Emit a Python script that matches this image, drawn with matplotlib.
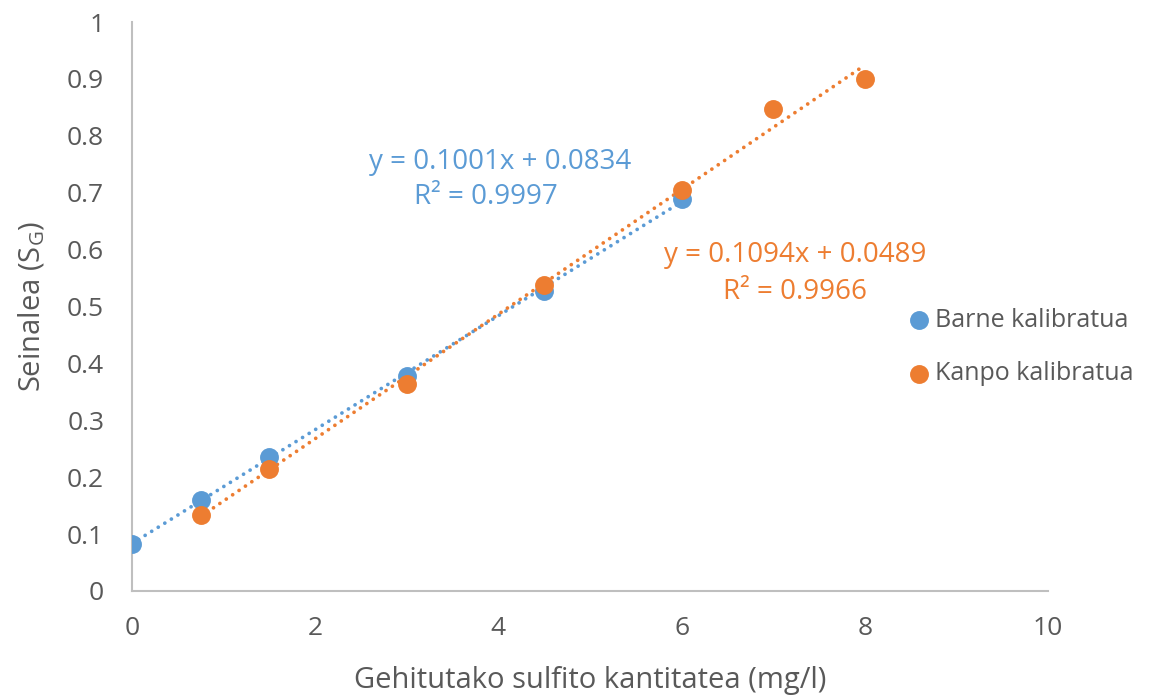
import numpy as np
import matplotlib
matplotlib.use("Agg")
import matplotlib.pyplot as plt

plt.rcParams['font.family'] = ['Open Sans', 'DejaVu Sans']
plt.rcParams['mathtext.fontset'] = 'custom'
plt.rcParams['mathtext.rm'] = 'Open Sans'

# Added sulfite (mg/l) and measured signal for each calibration
barne_x = [0, 0.75, 1.5, 3, 4.5, 6]
barne_y = [0.083, 0.160, 0.236, 0.378, 0.528, 0.689]
kanpo_x = [0.75, 1.5, 3, 4.5, 6, 7, 8]
kanpo_y = [0.134, 0.214, 0.364, 0.538, 0.705, 0.847, 0.900]

# Linear trendline coefficients (slope, intercept, R^2)
barne_fit = (0.1001, 0.0834, 0.9997)
kanpo_fit = (0.1094, 0.0489, 0.9966)

series_labels = ["Barne kalibratua", "Kanpo kalibratua"]
x_ticks = [0, 2, 4, 6, 8, 10]
y_ticks = [0, 0.1, 0.2, 0.3, 0.4, 0.5, 0.6, 0.7, 0.8, 0.9, 1]
y_tick_labels = ["0", "0.1", "0.2", "0.3", "0.4", "0.5", "0.6", "0.7", "0.8", "0.9", "1"]

blue = "#5B9BD5"
orange = "#ED7D31"
text_gray = "#595959"
axis_gray = "#BFBFBF"

W, H = 1152, 696
fig = plt.figure(figsize=(W / 100, H / 100), dpi=100)
ax = fig.add_axes([132 / W, 1 - 591 / H, 916 / W, 569 / H])

def trend(ax, xs, fit, color):
    m, b, _ = fit
    xx = np.array([min(xs), max(xs)])
    ax.plot(xx, m * xx + b, color=color, lw=2.7,
            linestyle=(0, (0.01, 2.05)), dash_capstyle='round', zorder=2)

ax.scatter(barne_x, barne_y, s=185, color=blue, zorder=3,
           label=series_labels[0], linewidths=0)
ax.scatter(kanpo_x, kanpo_y, s=185, color=orange, zorder=4,
           label=series_labels[1], linewidths=0)
trend(ax, barne_x, barne_fit, blue)
trend(ax, kanpo_x, kanpo_fit, orange)

ax.set_xlim(0, 10)
ax.set_ylim(0, 1)
ax.set_xticks(x_ticks)
ax.set_yticks(y_ticks)
ax.set_yticklabels(y_tick_labels)
ax.tick_params(length=0, labelsize=19, colors=text_gray)
ax.tick_params(axis='y', pad=20)
ax.tick_params(axis='x', pad=18)
for side in ("top", "right"):
    ax.spines[side].set_visible(False)
for side in ("left", "bottom"):
    ax.spines[side].set_color(axis_gray)
    ax.spines[side].set_linewidth(1.5)

ax.set_xlabel("Gehitutako sulfito kantitatea (mg/l)", fontsize=21,
              color=text_gray, labelpad=18)
ax.set_ylabel(r"Seinalea (S$_\mathregular{G}$)", fontsize=21,
              color=text_gray, labelpad=14)

def eq_lines(fit):
    m, b, r2 = fit
    return f"y = {m:.4f}x + {b:.4f}", f"R\u00b2 = {r2:.4f}"

b1, b2 = eq_lines(barne_fit)
k1, k2 = eq_lines(kanpo_fit)
fig.text(500 / W, 1 - 162 / H, b1, color=blue, fontsize=20, ha='center', va='center')
fig.text(486 / W, 1 - 197 / H, b2, color=blue, fontsize=20, ha='center', va='center')
fig.text(795 / W, 1 - 255 / H, k1, color=orange, fontsize=20, ha='center', va='center')
fig.text(795 / W, 1 - 292 / H, k2, color=orange, fontsize=20, ha='center', va='center')

leg = ax.legend(loc='center left', bbox_to_anchor=(906 / W, 1 - 347 / H),
                bbox_transform=fig.transFigure, frameon=False,
                fontsize=18, handletextpad=0.15, labelspacing=1.15,
                markerscale=1.0, handlelength=1.0, borderaxespad=0,
                borderpad=0)
for t in leg.get_texts():
    t.set_color(text_gray)

fig.savefig("out.png", dpi=100)
